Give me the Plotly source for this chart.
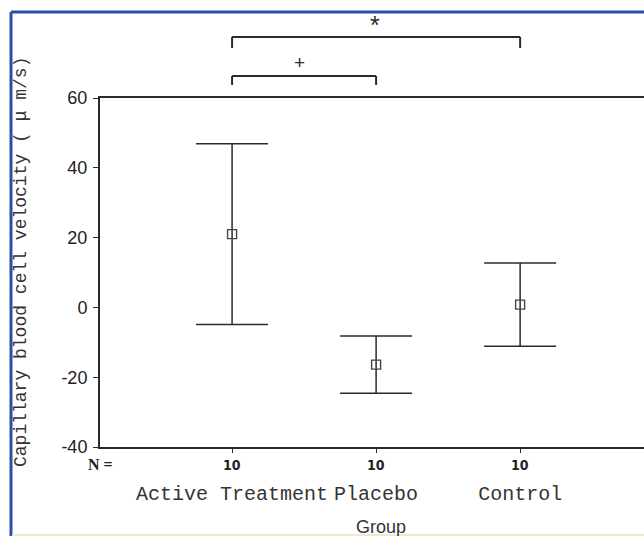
import plotly.graph_objects as go

# Group means with their error ranges (capillary blood cell velocity, µm/s)
groups = ["Active Treatment", "Placebo", "Control"]
means = [21.0, -16.4, 0.8]
errors = [25.9, 8.2, 11.9]
n_counts = [10, 10, 10]
y_ticks = [-40, -20, 0, 20, 40, 60]
y_tick_text = ["-40", "-20", "0", "20", "40", "60"]

# Significance brackets: (from group, to group, symbol)
brackets = [("Active Treatment", "Control", "*"), ("Active Treatment", "Placebo", "+")]

W, H = 644, 536
ML, MT, MB, MR = 100, 98, 89, 0
PW, PH = W - ML - MR, H - MT - MB


def px_x(p):
    return (p - ML) / PW


def px_y(p):
    return (H - MB - p) / PH


LINE = "#2b2b2b"
MONO = "Liberation Mono, monospace"

fig = go.Figure()
fig.add_trace(go.Scatter(
    x=groups, y=means, mode="markers",
    marker=dict(symbol="square-open", size=9, color="#444", line=dict(width=1.4)),
    error_y=dict(type="data", array=errors, visible=True, color=LINE,
                 thickness=1.5, width=36),
    showlegend=False, hoverinfo="skip",
))

shapes = []
annotations = []

# Brackets above the plot
levels = [(px_y(37), px_y(48), px_y(25), 25), (px_y(76), px_y(85), px_y(63), 19)]
for (g0, g1, sym), (ytop, ybot, ysym, fsize) in zip(brackets, levels):
    for xs, ys in (((g0, g0), (ybot, ytop)), ((g0, g1), (ytop, ytop)), ((g1, g1), (ytop, ybot))):
        shapes.append(dict(type="line", xref="x", yref="paper",
                           x0=xs[0], x1=xs[1], y0=ys[0], y1=ys[1],
                           line=dict(color=LINE, width=2)))
    i0, i1 = groups.index(g0), groups.index(g1)
    annotations.append(dict(x=(i0 + i1) / 2 - (0.03 if sym == "+" else 0.01),
                            xref="x", yref="paper", y=ysym, yanchor="middle",
                            text=sym, showarrow=False,
                            font=dict(family="Liberation Sans", size=fsize, color=LINE)))

# Sample-size row under the axis
for g, n in zip(groups, n_counts):
    annotations.append(dict(x=g, xref="x", yref="paper", y=px_y(465), yanchor="middle",
                            text=f"<b>{n}</b>", showarrow=False,
                            font=dict(family="DejaVu Sans Condensed, DejaVu Sans", size=14, color="#222")))
annotations.append(dict(x=px_x(100), xref="paper", yref="paper", y=px_y(465), yanchor="middle",
                        xanchor="center",
                        text="<b>N =</b>", showarrow=False,
                        font=dict(family="Liberation Serif", size=16, color="#222")))

# Axis titles
annotations.append(dict(x=px_x(21), xref="paper", yref="paper", y=px_y(262), yanchor="middle",
                        xanchor="center", textangle=-90,
                        text="Capillary blood cell velocity ( μ m/s)", showarrow=False,
                        font=dict(family=MONO, size=18, color="#333")))
annotations.append(dict(x=px_x(381), xref="paper", yref="paper", y=px_y(527), yanchor="middle",
                        text="Group", showarrow=False,
                        font=dict(family="Liberation Sans", size=18, color="#333")))

# Blue frame around the figure
fx, fy = px_x(11), px_y(12)
shapes.append(dict(type="line", xref="paper", yref="paper", x0=fx, x1=px_x(W + 5),
                   y0=fy, y1=fy, line=dict(color="#2d4ea3", width=3)))
shapes.append(dict(type="line", xref="paper", yref="paper", x0=fx, x1=fx,
                   y0=fy, y1=px_y(H + 5), line=dict(color="#2d4ea3", width=3)))
shapes.append(dict(type="line", xref="paper", yref="paper", x0=px_x(12), x1=px_x(W + 5),
                   y0=px_y(535), y1=px_y(535), line=dict(color="#f1e8d4", width=2)))

fig.update_layout(
    width=W, height=H,
    margin=dict(l=ML, r=MR, t=MT, b=MB, pad=0),
    paper_bgcolor="white", plot_bgcolor="white",
    shapes=shapes, annotations=annotations,
    xaxis=dict(type="category", categoryorder="array", categoryarray=groups,
               range=[-0.917, 2.86], showgrid=False, zeroline=False,
               showline=True, linecolor=LINE, linewidth=2, mirror=True,
               ticks="outside", ticklen=4, tickcolor=LINE,
               tickfont=dict(family=MONO, size=20, color="#333"),
               ticklabelstandoff=23),
    yaxis=dict(range=[-40, 60], tickvals=y_ticks, ticktext=y_tick_text,
               showgrid=False, zeroline=False,
               showline=True, linecolor=LINE, linewidth=2,
               ticks="outside", ticklen=5, tickcolor=LINE,
               tickfont=dict(family="Liberation Sans Narrow, Liberation Sans", size=18, color="#222"),
               ticklabelstandoff=2),
)

fig.write_html("out.html")
